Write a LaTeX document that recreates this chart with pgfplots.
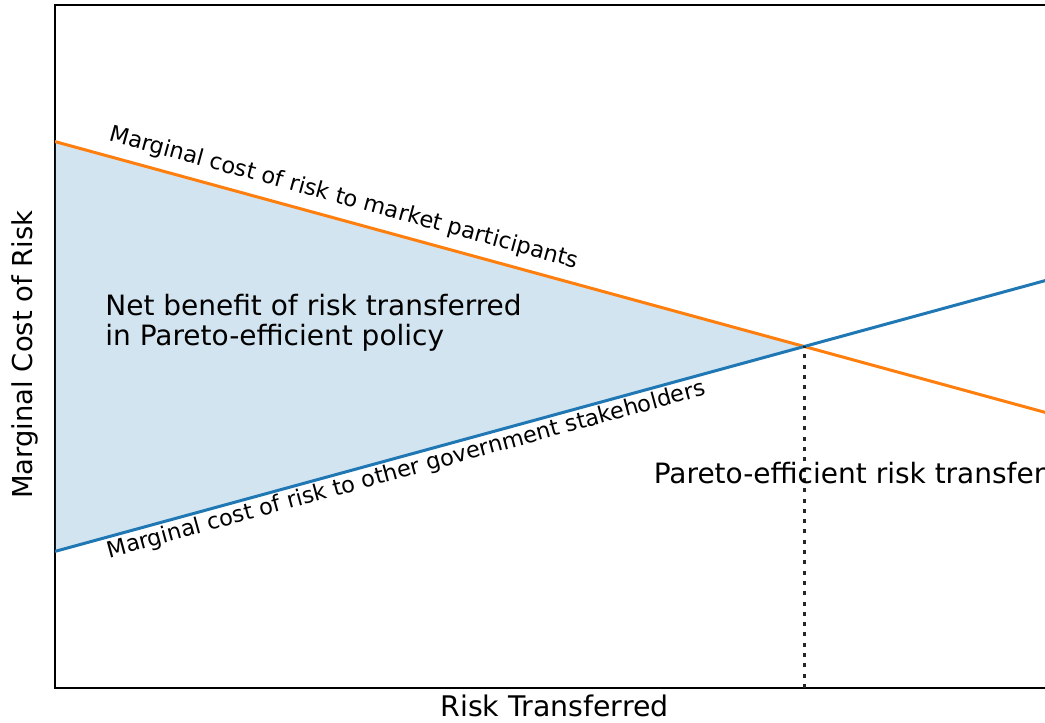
\documentclass[border=0pt]{standalone}
\usepackage{pgfplots}
\pgfplotsset{compat=1.18}
\usepackage{fontspec}
\setmainfont{DejaVu Sans}
\definecolor{c0}{HTML}{1F77B4}
\definecolor{c1}{HTML}{FF7F0E}
\newcommand{\mainfs}{\fontsize{14.0}{15}\selectfont}
\newcommand{\xfs}{\fontsize{14.2}{15}\selectfont}
\newcommand{\yfs}{\fontsize{13.7}{15}\selectfont}
\newcommand{\smallfs}{\fontsize{11.25}{13}\selectfont}
\begin{document}
\begin{tikzpicture}
\useasboundingbox (0,0) rectangle (522.5pt,361.5pt);
\clip (0,0) rectangle (522.5pt,361.5pt);
\begin{axis}[
  at={(27.5pt,17.5pt)}, anchor=south west,
  width=499.5pt, height=341.5pt, scale only axis,
  xmin=0, xmax=10, ymin=0, ymax=10,
  xtick=\empty, ytick=\empty,
  axis line style={line width=0.8pt, black},
  clip mode=individual,
  xlabel={Risk Transferred},
  ylabel={Marginal Cost of Risk},
  xlabel style={at={(axis description cs:0.5,0)}, anchor=north, inner sep=0pt, yshift=-3.5pt, font=\xfs},
  ylabel style={at={(axis description cs:-0.016,0.488)}, anchor=south, inner sep=0pt, font=\yfs},
]
\addplot[draw=none, fill=c0, fill opacity=0.2] coordinates {(0,8) (7.5,5) (0,2)} -- cycle;
\addplot[c1, line width=1.5pt] coordinates {(0,8) (10,4)};
\addplot[c0, line width=1.5pt] coordinates {(0,2) (10,6)};
\addplot[black!85, line width=1.5pt, dash pattern=on 2pt off 3.15pt] coordinates {(7.5,0) (7.5,5)};
\node[anchor=base west, rotate=-15.3, inner sep=0pt, font=\smallfs] at (axis cs:0.53,8.02) {Marginal cost of risk to market participants};
\node[anchor=base west, rotate=15.3, inner sep=0pt, font=\smallfs] at (axis cs:0.54,1.90) {Marginal cost of risk to other government stakeholders};
\node[anchor=base west, inner sep=0pt, font=\mainfs] at (axis cs:0.5,5.45) {Net benefit of risk transferred};
\node[anchor=base west, inner sep=0pt, font=\mainfs] at (axis cs:0.5,5.01) {in Pareto-efficient policy};
\node[anchor=base west, inner sep=0pt, font=\mainfs] at (axis cs:5.99,3.0) {Pareto-efficient risk transfer};
\end{axis}
\end{tikzpicture}
\end{document}
